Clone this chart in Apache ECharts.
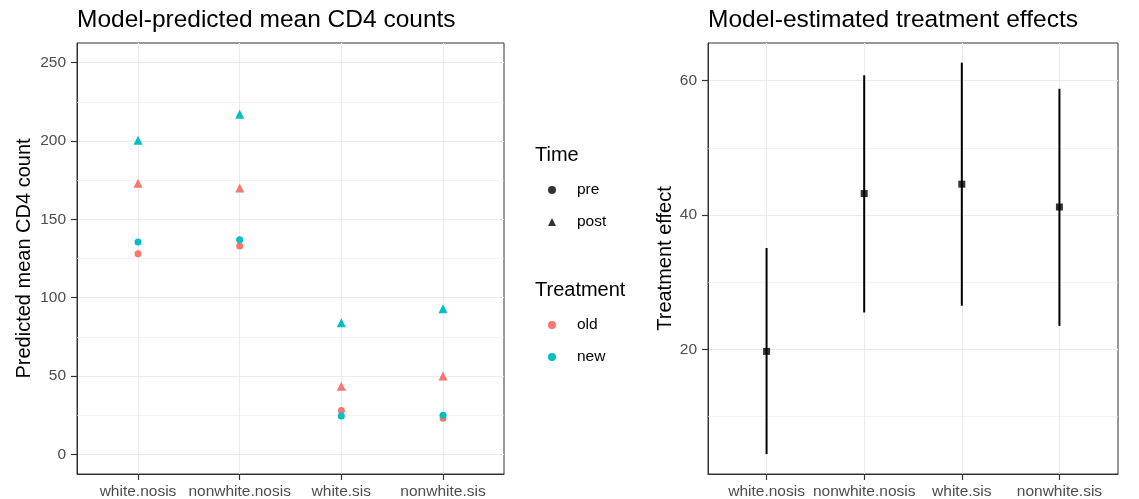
<!DOCTYPE html>
<html>
<head>
<meta charset="utf-8">
<title>CD4 counts</title>
<script src="https://cdn.jsdelivr.net/npm/echarts@6/dist/echarts.min.js"></script>
<style>
html, body { margin: 0; padding: 0; background: #fff; }
#main { width: 1139px; height: 499px; }
</style>
</head>
<body>
<div id="main"></div>
<script>
// 分组（横坐标）
const groups = ['white.nosis', 'nonwhite.nosis', 'white.sis', 'nonwhite.sis']
// 左图：模型预测均值
const oldPre = [128, 133, 28, 23]
const oldPost = [173, 170, 43.5, 50]
const newPre = [135.5, 137, 24.5, 25]
const newPost = [200.5, 217, 84, 93]
// 右图：处理效应及区间
const effect = [19.7, 43.2, 44.6, 41.2]
const effectLow = [4.4, 25.5, 26.5, 23.5]
const effectHigh = [35.1, 60.8, 62.7, 58.8]
// 刻度
const leftTicks = [0, 50, 100, 150, 200, 250]
const leftMinor = [25, 75, 125, 175, 225]
const rightTicks = [20, 40, 60]
const rightMinor = [10, 30, 50]

const FONT = 'Liberation Sans, Arial, sans-serif'
const OLD_COLOR = '#F8766D'
const NEW_COLOR = '#00BFC4'
const positions = groups.map((g, i) => i + 1)

// 一个组的点：pre 用圆，post 用三角
const makePoints = (pre, post) => {
  let returnData = []
  positions.forEach((x, i) => {
    returnData.push({ value: [x, pre[i]], symbol: 'circle', symbolSize: 7 })
    returnData.push({ value: [x, post[i]], symbol: 'triangle', symbolSize: 9 })
  })
  return returnData
}

const axisLine = { show: true, onZero: false, lineStyle: { color: '#333333', width: 1 } }
const axisTick = (values) => ({
  show: true,
  customValues: values,
  length: 6,
  lineStyle: { color: '#333333', width: 1.2 }
})

const xAxisOf = (gridIndex) => {
  return {
    gridIndex: gridIndex,
    type: 'value',
    min: 0.4,
    max: 4.6,
    axisLine: axisLine,
    axisTick: axisTick(positions),
    axisLabel: {
      customValues: positions,
      formatter: function(value) {
        return groups[Math.round(value) - 1]
      },
      color: '#4D4D4D',
      fontSize: 15.5,
      fontFamily: FONT,
      margin: 10
    },
    splitLine: { lineStyle: { color: '#EBEBEB', width: 1.1 } }
  }
}

const yAxisOf = (gridIndex, min, max, ticks, name, nameGap) => {
  return {
    gridIndex: gridIndex,
    type: 'value',
    min: min,
    max: max,
    name: name,
    nameLocation: 'middle',
    nameGap: nameGap,
    nameTextStyle: { fontSize: 20, color: '#000', fontFamily: FONT },
    axisLine: axisLine,
    axisTick: axisTick(ticks),
    axisLabel: {
      customValues: ticks,
      color: '#4D4D4D',
      fontSize: 15.5,
      fontFamily: FONT,
      margin: 11
    },
    splitLine: { lineStyle: { color: '#EBEBEB', width: 1.1 } }
  }
}

// 次网格线
const minorLines = (xIndex, yIndex, values) => {
  return {
    type: 'scatter',
    xAxisIndex: xIndex,
    yAxisIndex: yIndex,
    data: [],
    silent: true,
    z: 1,
    markLine: {
      silent: true,
      z: 1,
      symbol: 'none',
      label: { show: false },
      animation: false,
      lineStyle: { color: '#EBEBEB', width: 0.6, type: 'solid' },
      data: values.map(v => ({ yAxis: v }))
    }
  }
}

const titleStyle = (size) => ({ fontSize: size, fontWeight: 'normal', color: '#000', fontFamily: FONT })
const legendBase = {
  orient: 'vertical', padding: 0,
  itemWidth: 8, itemHeight: 8, itemGap: 16,
  symbolKeepAspect: true,
  selectedMode: false,
  textStyle: { fontSize: 15.5, color: '#000', fontFamily: FONT, padding: [0, 0, 0, 16] }
}
const gridBase = {
  top: 43, bottom: 25, show: true,
  borderColor: '#333333', borderWidth: 1, backgroundColor: '#fff',
  outerBoundsMode: 'none'
}

const option = {
  animation: false,
  textStyle: { fontFamily: FONT },
  title: [
    { text: 'Model-predicted mean CD4 counts', left: 77, top: 8, padding: 0, textStyle: titleStyle(24.5) },
    { text: 'Model-estimated treatment effects', left: 708, top: 8, padding: 0, textStyle: titleStyle(24.5) },
    { text: 'Time', left: 535, top: 145, padding: 0, textStyle: titleStyle(20) },
    { text: 'Treatment', left: 535, top: 280, padding: 0, textStyle: titleStyle(20) }
  ],
  legend: [
    Object.assign({}, legendBase, {
      left: 548, top: 182,
      data: [
        { name: 'pre', icon: 'circle', itemStyle: { color: '#000' } },
        { name: 'post', icon: 'triangle', itemStyle: { color: '#000' } }
      ]
    }),
    Object.assign({}, legendBase, {
      left: 548, top: 317,
      data: [
        { name: 'old', icon: 'circle' },
        { name: 'new', icon: 'circle' }
      ]
    })
  ],
  grid: [
    Object.assign({}, gridBase, { left: 77, right: 635 }),
    Object.assign({}, gridBase, { left: 708, right: 21 })
  ],
  xAxis: [xAxisOf(0), xAxisOf(1)],
  yAxis: [
    yAxisOf(0, -12.5, 262.5, leftTicks, 'Predicted mean CD4 count', 43),
    yAxisOf(1, 1.44, 65.62, rightTicks, 'Treatment effect', 33)
  ],
  series: [
    minorLines(0, 0, leftMinor),
    minorLines(1, 1, rightMinor),
    // 图例用的占位系列
    { name: 'pre', type: 'scatter', data: [], itemStyle: { color: '#000' } },
    { name: 'post', type: 'scatter', data: [], symbol: 'triangle', itemStyle: { color: '#000' } },
    {
      name: 'old', type: 'scatter', xAxisIndex: 0, yAxisIndex: 0, z: 3,
      itemStyle: { color: OLD_COLOR, opacity: 1 },
      data: makePoints(oldPre, oldPost)
    },
    {
      name: 'new', type: 'scatter', xAxisIndex: 0, yAxisIndex: 0, z: 3,
      itemStyle: { color: NEW_COLOR, opacity: 1 },
      data: makePoints(newPre, newPost)
    },
    {
      name: 'interval', type: 'custom', xAxisIndex: 1, yAxisIndex: 1, z: 3,
      encode: { x: 0, y: [1, 2] },
      data: positions.map((x, i) => [x, effectLow[i], effectHigh[i]]),
      renderItem: function(params, api) {
        const lo = api.coord([api.value(0), api.value(1)])
        const hi = api.coord([api.value(0), api.value(2)])
        return {
          type: 'line',
          shape: { x1: lo[0], y1: lo[1], x2: hi[0], y2: hi[1] },
          style: { stroke: '#000', lineWidth: 2 }
        }
      }
    },
    {
      name: 'effect', type: 'scatter', xAxisIndex: 1, yAxisIndex: 1, z: 4,
      symbol: 'rect', symbolSize: 7,
      itemStyle: { color: '#000' },
      data: positions.map((x, i) => [x, effect[i]])
    }
  ]
}

const myChart = echarts.init(document.getElementById('main'), null, { renderer: 'canvas' })
myChart.setOption(option)
window.addEventListener('resize', myChart.resize)
</script>
</body>
</html>
